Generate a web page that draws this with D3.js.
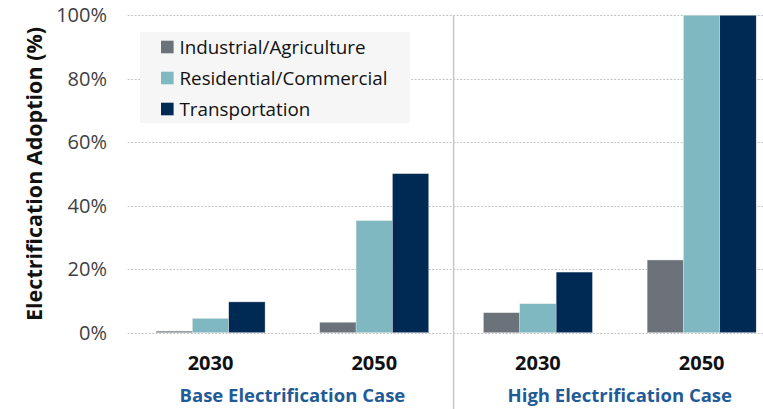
<!DOCTYPE html>
<html>
<head>
<meta charset="utf-8">
<script src="https://cdn.jsdelivr.net/npm/d3@7"></script>
<style>
  body { margin: 0; background: #fff; }
  svg { display: block; font-family: "Open Sans", Lato, sans-serif; }
</style>
</head>
<body>
<svg id="chart" width="763" height="409"></svg>
<script>
// chart data
const cases = ["Base Electrification Case", "High Electrification Case"];
const years = ["2030", "2050"];
const seriesNames = ["Industrial/Agriculture", "Residential/Commercial", "Transportation"];
const industrial = [0.5, 3.3, 6.3, 22.9];
const residential = [4.5, 35.3, 9.1, 100];
const transportation = [9.7, 50.1, 19.1, 100];
const yTicks = [0, 20, 40, 60, 80, 100];

const colors = ["#6b7279", "#7fb8c1", "#002a54"];

const groups = [];
cases.forEach((c, ci) => years.forEach(yr => groups.push({ key: c + " " + yr, year: yr, caseIdx: ci })));
const series = [industrial, residential, transportation];

const W = 763, H = 409;
const plotLeft = 128.7, plotTop = 15.2, plotBottom = 332.7;
const step = 163.7;

const svg = d3.select("#chart");

const x = d3.scaleBand()
  .domain(groups.map(g => g.key))
  .range([plotLeft, plotLeft + step * groups.length])
  .paddingInner(0.334)
  .paddingOuter(0.167);

const xs = d3.scaleBand()
  .domain(seriesNames)
  .range([0, x.bandwidth()]);

const y = d3.scaleLinear().domain([0, 100]).range([plotBottom, plotTop]);

// gridlines
svg.append("g")
  .selectAll("line")
  .data(yTicks)
  .enter().append("line")
    .attr("x1", plotLeft - 1)
    .attr("x2", W)
    .attr("y1", d => Math.round(y(d)) + 0.5)
    .attr("y2", d => Math.round(y(d)) + 0.5)
    .style("stroke", "#c4c4c4")
    .style("stroke-width", 1)
    .style("stroke-dasharray", "2,1.5");

// y tick labels
svg.append("g")
  .selectAll("text")
  .data(yTicks)
  .enter().append("text")
    .attr("x", 107)
    .attr("y", d => y(d))
    .attr("dy", "0.36em")
    .style("text-anchor", "end")
    .style("font-size", "20px")
    .style("fill", "#3f3f3f")
    .text(d => d + "%");

// axis title
svg.append("text")
  .attr("transform", `translate(42, ${(plotTop + plotBottom) / 2}) rotate(-90)`)
  .style("text-anchor", "middle")
  .style("font-size", "21.5px")
  .style("font-weight", "bold")
  .style("fill", "#111")
  .text("Electrification Adoption (%)");

// separator between cases
const sepX = (x(groups[1].key) + x.bandwidth() + x(groups[2].key)) / 2 - 2.5;
svg.append("line")
  .attr("x1", sepX).attr("x2", sepX)
  .attr("y1", plotTop).attr("y2", H)
  .style("stroke", "#c9c7c0")
  .style("stroke-width", 1.5);

// bars
const barData = [];
groups.forEach((g, gi) => series.forEach((s, si) => barData.push({ g: g, name: seriesNames[si], v: s[gi], c: colors[si] })));

svg.append("g")
  .selectAll("rect")
  .data(barData)
  .enter().append("rect")
    .attr("x", d => x(d.g.key) + xs(d.name))
    .attr("width", xs.bandwidth())
    .attr("y", d => y(d.v))
    .attr("height", d => y(0) - y(d.v))
    .style("fill", d => d.c)
    .style("stroke", "#e6e6e6")
    .style("stroke-width", 0.4);

// year labels
svg.append("g")
  .selectAll("text")
  .data(groups)
  .enter().append("text")
    .attr("x", d => x(d.key) + x.bandwidth() / 2)
    .attr("y", 370)
    .style("text-anchor", "middle")
    .style("font-size", "20px")
    .style("font-weight", "bold")
    .style("fill", "#111")
    .text(d => d.year);

// case labels
svg.append("g")
  .selectAll("text")
  .data(cases)
  .enter().append("text")
    .attr("x", (d, i) => (x(groups[i * 2].key) + x(groups[i * 2 + 1].key) + x.bandwidth()) / 2)
    .attr("y", 402)
    .style("text-anchor", "middle")
    .style("font-size", "18.5px")
    .style("font-weight", "bold")
    .style("fill", "#1f5b97")
    .text(d => d);

// legend
const legend = svg.append("g").attr("transform", "translate(140, 32)");
legend.append("rect")
  .attr("width", 270).attr("height", 91)
  .style("fill", "#f6f6f6");

const items = legend.selectAll("g")
  .data(seriesNames)
  .enter().append("g")
    .attr("transform", (d, i) => `translate(21, ${15 + i * 31})`);

items.append("rect")
  .attr("x", 0).attr("y", -6.3)
  .attr("width", 12.6).attr("height", 12.6)
  .style("fill", (d, i) => colors[i]);

items.append("text")
  .attr("x", 18.5)
  .attr("dy", "0.36em")
  .style("font-size", "18.8px")
  .style("fill", "#111")
  .text(d => d);
</script>
</body>
</html>
